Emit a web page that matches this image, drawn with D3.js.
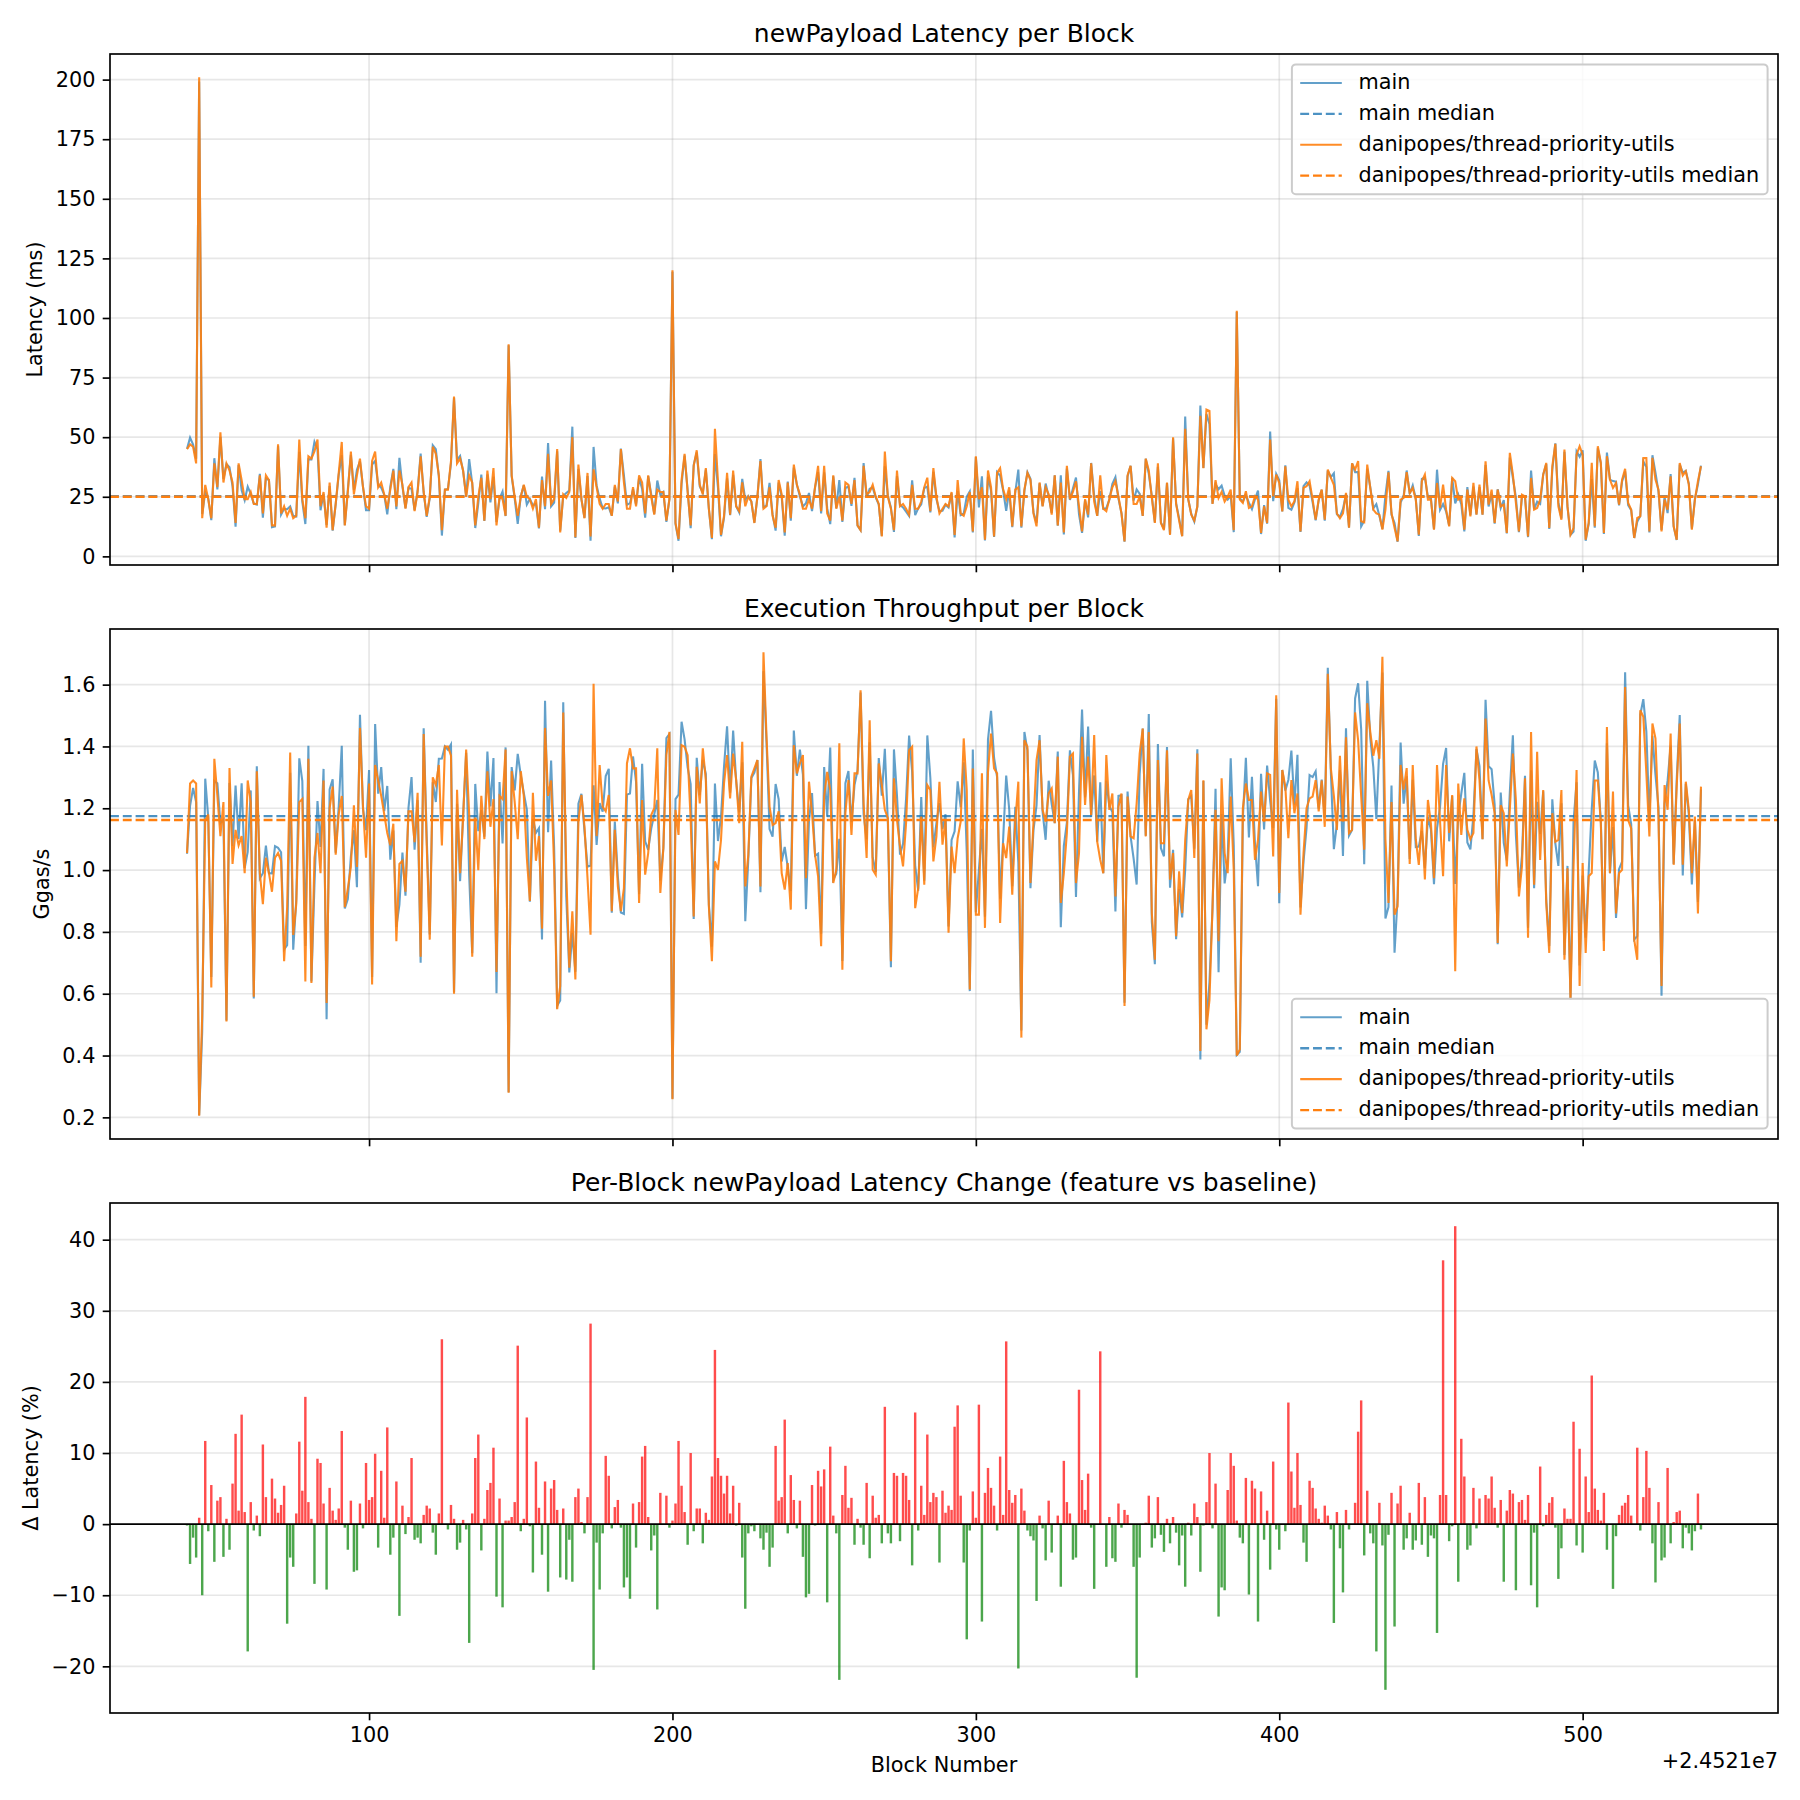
<!DOCTYPE html>
<html>
<head>
<meta charset="utf-8">
<title>newPayload benchmark</title>
<script src="https://cdn.jsdelivr.net/npm/d3@7"></script>
<style>
  body { margin: 0; background: #fff; }
  svg text { font-family: "DejaVu Sans", sans-serif; fill: #000; }
</style>
</head>
<body>
<div id="chart"></div>
<script>
// block numbers on the x axis carry an offset of +2.4521e7
const blockOffsetLabel = "+2.4521e7";
const firstBlock = 40;

// newPayload latency of the feature branch (ms), one value per block, 10 per row
const featureLatency = [
  45, 47, 46, 39, 201, 16, 30, 24, 16, 39,            // 40
  29, 52, 31, 39, 36, 31, 14, 39, 32, 24,             // 50
  24, 27, 22, 22, 34, 18, 34, 32, 13, 13,             // 60
  47, 18, 21, 17, 20, 16, 17, 49, 24, 16,             // 70
  42, 41, 44, 49, 21, 27, 12, 31, 11, 22,             // 80
  35, 48, 13, 27, 44, 26, 34, 41, 29, 21,             // 90
  20, 40, 44, 29, 31, 26, 20, 28, 36, 21,             // 100
  36, 30, 20, 29, 31, 19, 27, 42, 27, 17,             // 110
  25, 46, 43, 34, 11, 28, 28, 40, 67, 39,             // 120
  41, 36, 25, 34, 31, 13, 25, 33, 15, 36,             // 130
  24, 37, 13, 25, 24, 17, 89, 34, 25, 17,             // 140
  25, 30, 25, 24, 20, 24, 12, 32, 21, 43,             // 150
  22, 24, 45, 10, 26, 24.5, 27, 50, 8, 38.5,          // 160
  24, 16, 35, 8.4, 36.5, 29, 22, 20, 22, 22,          // 170
  17, 30, 23, 45, 31, 20, 20, 29, 21, 34,             // 180
  31, 18, 34, 25, 17.5, 28, 27, 27, 15, 24,           // 190
  120, 14, 7.3, 32, 43, 27, 13, 38, 44.5, 30,         // 200
  26, 37, 20, 7.7, 53.5, 31.5, 9, 17, 35, 17.5,       // 210
  36, 21, 19, 31, 21, 25, 23, 14, 25, 40,             // 220
  20, 21, 29, 17, 12, 32, 26, 10, 31, 16,             // 230
  38.5, 30, 26, 20, 20, 24, 20, 29, 38, 19,           // 240
  38, 18, 15, 34, 20, 25, 15, 31, 30, 22,             // 250
  32, 13, 11, 38, 26, 27, 30, 25, 22, 8.4,            // 260
  44, 25, 20, 11, 36, 21, 22, 20, 17.5, 30,           // 270
  20, 20, 23, 29, 33, 19, 37, 25, 18, 20,             // 280
  22, 21, 27, 9, 32, 18, 17, 21, 27, 10.5,            // 290
  42, 24, 29, 7, 36, 29, 8.4, 35, 37, 28,             // 300
  24, 29, 12.6, 28, 29, 12.6, 28, 35, 32, 18,         // 310
  12.6, 31, 21, 29, 26, 17.5, 34, 13, 31, 10,         // 320
  38, 24, 27, 31.5, 21, 10.5, 24, 17.5, 39, 23,       // 330
  17, 34, 20, 19, 24, 29, 31.5, 25, 18, 6.3,          // 340
  34, 38, 22, 22, 25, 17, 41, 36, 24.5, 14,           // 350
  39, 14, 11, 31, 9, 50, 22, 15, 8.4, 53.5,           // 360
  24, 17.5, 15, 21, 59, 37, 61.6, 61, 22, 32,         // 370
  24.5, 27, 23, 25, 28, 11, 103, 23.8, 22.4, 27.3,    // 380
  20.3, 21, 25.2, 23.8, 9.8, 21, 14, 49, 25.2, 34.3,  // 390
  30.8, 18.9, 37.8, 23.8, 21, 23.1, 31.5, 10.5, 28.7, 29.4, // 400
  31.5, 23.8, 15.4, 23.8, 28, 15.4, 36.4, 33, 30, 18, // 410
  16, 18, 26.6, 12, 39, 36.4, 40, 14.7, 14.3, 38.5,   // 420
  28.7, 19.6, 18, 17.5, 11.2, 19.6, 35.3, 18.2, 12, 6.3, // 430
  23.8, 24.5, 35.3, 26.6, 28.7, 23.8, 9.1, 31.5, 34.3, 23.8, // 440
  23.8, 11.2, 30.8, 20.3, 30.1, 19.6, 12.6, 32.9, 31.5, 23.8, // 450
  24.5, 11.2, 28, 16.8, 30.8, 17.5, 30.1, 17.5, 39.9, 21.7,   // 460
  28, 14, 28, 21, 21.7, 9.8, 43.4, 34.3, 22.4, 10.5,  // 470
  25.9, 25.2, 8.4, 32.9, 19.6, 20.3, 23.8, 34.3, 39.2, 11.9, // 480
  37.8, 47.2, 21, 15.4, 44.8, 21, 9.1, 11.9, 42.7, 46.2,     // 490
  42.7, 7, 14, 39.2, 12.6, 46.2, 39.2, 9.8, 42, 32.2, // 500
  28.7, 30.8, 21.7, 32.2, 36.7, 22.4, 19.6, 7.7, 16.1, 16.8, // 510
  41.3, 41.3, 10.5, 41.3, 32.2, 28, 10.5, 23.8, 19.6, 33.6,  // 520
  12.6, 7, 39.2, 33.9, 35.7, 30.1, 11.2, 23.8, 31.5, 37.8    // 530
];

// per-block newPayload latency change, feature vs baseline (%)
const latencyDelta = [
  -0.2, -5.6, -1.9, -4.7, 0.9, -10.0, 11.7, -1.0, 5.5, -5.3,   // 40
  3.3, 3.8, -4.6, 0.75, -3.6, 5.7, 12.7, 1.9, 15.4, 1.7,       // 50
  -17.9, 3.1, -0.9, 1.2, -1.7, 11.2, 3.8, 0, 6.4, 3.6,         // 60
  1.6, 2.7, 5.4, -14.0, -4.7, -6.0, 1.5, 11.6, 4.7, 17.9,      // 70
  3.1, 0.75, -8.4, 9.2, 8.6, 2.9, -9.2, 5.1, 1.9, 0.6,         // 80
  2.2, 13.1, -0.5, -3.6, 3.3, -6.7, -6.5, 2.9, -0.6, 8.6,      // 90
  3.4, 3.8, 9.9, -3.3, 7.5, 0.9, 13.6, -4.3, -1.9, 6.0,        // 100
  -12.9, 2.6, -1.4, 1.0, 9.3, -2.2, -1.9, -2.7, 1.3, 2.6,      // 110
  2.2, -1.2, -4.3, 1.5, 26.0, 0, -0.75, 2.7, 0.75, -3.6,       // 120
  -2.6, 0.6, -0.75, -16.7, 1.5, 9.3, 12.6, -3.7, 0.75, 4.8,    // 130
  5.8, 10.75, -10.2, 3.6, -11.7, 0.5, 0.5, 1.0, 3.1, 25.1,     // 140
  -1.0, 0.75, 15.0, -0.3, -6.8, 8.8, 2.3, -4.3, 6.0, -9.5,     // 150
  5.0, 6.2, 2.0, -7.5, 2.2, -7.8, -2.2, -8.1, 3.8, 5.0,        // 160
  0.3, -1.3, 3.8, 28.2, -20.5, -2.6, -9.2, -1.3, 9.6, 6.8,     // 170
  -0.6, 2.4, 3.4, -0.5, -8.9, -7.5, -10.5, 2.9, -3.3, 3.1,     // 180
  9.5, 11.0, 1.0, -3.7, -1.6, -12.0, 4.4, 0, 4.0, -0.5,        // 190
  0.5, 2.9, 11.7, 5.4, 1.7, -2.9, 10.0, -1.0, 2.2, 2.2,        // 200
  -2.7, 1.6, 0.6, 6.7, 24.5, 9.3, 6.8, 4.3, 6.8, 1.5,          // 210
  5.4, -0.2, 3.0, -4.7, -11.9, -1.3, -0.3, -1.0, 0, -2.0,      // 220
  -3.6, -1.2, -6.0, -3.3, 11.0, 3.3, 3.8, 14.7, -1.3, 6.9,     // 230
  3.4, -0.6, 3.3, -4.6, -10.3, -9.8, 5.5, -0.2, 7.5, 5.3,      // 240
  7.7, -11.0, 10.9, 1.2, -1.3, -21.9, 4.1, 8.2, 2.3, 3.7,      // 250
  -2.9, 0.75, -0.5, -2.9, 5.8, -4.8, 4.0, 0.9, 1.3, -2.7,      // 260
  16.5, -1.3, -2.7, 7.2, 6.8, -2.4, 7.2, 6.8, 3.4, -5.8,       // 270
  15.7, -0.9, 5.4, 1.3, 12.6, 3.1, 4.4, 3.8, -5.4, 4.7,        // 280
  1.6, 2.6, 2.0, 13.7, 16.7, 4.0, -5.4, -16.2, -0.9, 4.6,      // 290
  0.9, 16.8, -13.7, 4.4, 7.9, 5.1, 2.6, -0.9, 9.5, 1.3,        // 300
  25.7, 4.8, 3.0, 4.1, -20.3, 5.0, 1.9, -0.9, -1.7, -2.3,      // 310
  -10.8, 1.2, -0.6, -5.1, 3.3, -4.0, 0, 1.2, -8.8, 8.9,        // 320
  3.1, 1.5, -5.0, -4.7, 18.9, 6.2, 2.0, 7.1, -0.5, -9.1,       // 330
  0, 24.3, 0, -6.0, 1.0, -4.8, -5.3, 2.9, -0.5, 2.0,           // 340
  1.3, 0, -6.0, -21.6, -4.7, 0, 0.2, 4.0, -3.3, -2.0,          // 350
  3.8, -1.5, -3.9, 0.75, -2.7, 1.0, -1.2, -5.8, -1.6, -8.8,    // 360
  0.2, -1.6, 2.9, 1.0, -6.7, -0.2, 3.1, 10.0, -0.6, 5.7,       // 370
  -13.0, -8.9, -9.3, 4.8, 10.0, 8.2, 0.5, -1.9, -2.7, 6.5,     // 380
  -9.9, 6.1, 5.0, -13.7, 4.6, -2.2, 1.9, -6.4, 8.8, -0.75,     // 390
  -3.6, 0, -1.0, 17.1, 7.4, 2.3, 10.0, 2.7, -2.6, -5.3,        // 400
  6.1, 5.1, 2.2, 0.75, 0.2, 2.6, 1.2, -0.75, -13.9, 1.7,       // 410
  -3.4, -9.6, 2.0, -0.75, 0, 3.0, 13.0, 17.4, -4.4, 4.7,       // 420
  -1.3, -2.7, -17.9, 3.0, -3.0, -23.3, -1.5, 4.4, -14.4, 2.9,  // 430
  5.4, -3.6, -2.0, 1.6, -3.6, -2.3, 5.8, -2.9, 3.8, -4.6,      // 440
  -1.6, -2.0, -15.3, 4.1, 37.1, 4.1, -2.4, -0.3, 41.9, -8.1,   // 450
  12.0, 6.7, -3.6, -3.0, 5.1, -0.6, 3.6, 0, 4.1, 3.6,          // 460
  6.7, 2.3, -0.5, 3.4, -8.1, 1.9, 4.8, 4.3, -9.3, 3.1,         // 470
  3.4, 0.6, 4.1, -8.6, -1.2, -11.7, 8.1, -0.3, 1.3, 3.0,       // 480
  3.8, -0.5, -7.7, -3.4, 2.2, 0.75, 0.75, 14.4, -3.0, 10.6,    // 490
  -4.0, 6.7, 1.7, 20.9, 5.0, 2.0, 0.5, 4.4, -3.6, 0,           // 500
  -9.1, -1.7, 1.3, 2.6, 3.0, 4.1, 1.2, 0, 10.75, -0.9,         // 510
  3.8, 10.3, 5.1, -2.7, -8.2, 3.1, -5.1, -4.7, 7.9, -2.7,      // 520
  0.3, 1.7, 1.9, -3.4, -0.5, -1.3, -3.7, -1.0, 4.3, -0.75      // 530
];

// execution throughput of the feature branch (Ggas/s)
const featureThroughput = [
  1.055, 1.28, 1.29, 1.28, 0.205, 0.53, 1.16, 1.18, 0.62, 1.36,        // 40
  1.24, 1.11, 1.22, 0.51, 1.33, 1.02, 1.13, 1.08, 1.11, 0.99,          // 50
  1.29, 1.22, 0.59, 1.32, 0.99, 0.89, 1.04, 0.99, 0.93, 1.04,          // 60
  1.055, 1.03, 0.705, 0.88, 1.38, 0.79, 0.89, 1.22, 1.23, 0.64,        // 70
  1.36, 0.635, 1.04, 1.12, 0.99, 1.29, 0.57, 1.20, 1.27, 1.05,         // 80
  1.18, 1.24, 0.88, 0.94, 1.01, 1.21, 1.01, 1.46, 1.205, 1.04,         // 90
  1.28, 0.63, 1.34, 1.29, 1.24, 1.18, 1.12, 1.08, 1.15, 0.77,          // 100
  1.02, 1.03, 0.93, 1.19, 1.19, 1.09, 1.25, 0.72, 1.44, 1.08,          // 110
  0.775, 1.30, 1.275, 1.34, 1.08, 1.40, 1.40, 1.37, 0.60, 1.26,        // 120
  0.99, 1.17, 1.39, 1.18, 0.72, 1.17, 1.00, 1.24, 1.10, 1.32,          // 130
  1.14, 1.23, 0.67, 1.24, 1.23, 1.39, 0.28, 1.32, 1.22, 1.10,          // 140
  1.32, 1.24, 1.04, 0.90, 1.25, 1.03, 1.11, 0.81, 1.46, 1.24,          // 150
  1.29, 1.01, 0.55, 0.625, 1.51, 0.99, 0.684, 0.867, 0.646, 1.157,     // 160
  1.243, 1.141, 0.974, 0.791, 1.603, 1.11, 1.34, 1.205, 1.19, 1.243,   // 170
  0.867, 1.13, 0.947, 0.867, 0.942, 1.345, 1.394, 1.329, 1.329, 0.894, // 180
  1.227, 0.985, 1.055, 1.178, 1.20, 1.394, 0.926, 1.071, 1.372, 1.447, // 190
  0.259, 1.195, 1.114, 1.404, 1.399, 1.372, 1.162, 0.85, 1.334, 1.216, // 200
  1.394, 1.291, 0.883, 0.705, 1.028, 1.001, 1.098, 1.281, 1.372, 1.232,// 210
  1.377, 1.291, 1.152, 1.415, 0.947, 1.049, 1.302, 1.329, 1.356, 0.947,// 220
  1.705, 1.431, 1.205, 1.146, 1.152, 1.19, 0.99, 0.937, 1.023, 0.872,  // 230
  1.404, 1.313, 1.345, 1.372, 0.974, 1.286, 1.184, 1.049, 0.98, 0.754, // 240
  1.238, 1.318, 1.259, 0.958, 1.001, 1.41, 0.678, 1.184, 1.291, 1.114, // 250
  1.313, 1.313, 1.582, 1.216, 1.039, 1.485, 1.001, 0.985, 1.345, 1.275,// 260
  1.195, 1.168, 0.705, 1.297, 1.162, 1.076, 1.012, 1.152, 1.388, 1.399,// 270
  0.877, 0.942, 1.173, 0.953, 1.275, 1.259, 1.028, 1.109, 1.286, 1.082,// 280
  1.162, 0.797, 1.076, 0.99, 1.103, 1.157, 1.426, 1.259, 0.614, 1.329, // 290
  0.856, 0.856, 1.313, 0.813, 1.318, 1.442, 1.329, 1.313, 0.829, 1.087,// 300
  1.039, 1.141, 0.92, 1.157, 1.286, 0.458, 1.42, 1.399, 0.958, 1.157,  // 310
  1.356, 1.42, 1.195, 1.157, 1.248, 1.264, 1.152, 1.367, 0.894, 0.99,  // 320
  1.119, 1.367, 1.377, 0.958, 1.055, 1.431, 1.211, 1.367, 1.178, 1.437,// 330
  1.092, 1.033, 0.99, 1.372, 1.195, 1.248, 0.915, 1.205, 1.248, 0.56,  // 340
  1.238, 1.109, 1.103, 1.216, 1.377, 1.458, 1.109, 1.447, 0.861, 0.71, // 350
  1.356, 1.087, 1.087, 1.388, 0.969, 1.055, 0.786, 0.996, 0.861, 1.098,// 360
  1.227, 1.259, 1.039, 1.377, 0.415, 1.291, 0.485, 0.58, 0.88, 1.195,  // 370
  0.77, 1.297, 1.055, 0.99, 1.238, 1.0, 0.40, 0.42, 1.20, 1.28,        // 380
  1.227, 1.227, 1.033, 1.098, 1.254, 1.157, 1.313, 1.308, 1.044, 1.566,// 390
  0.926, 1.324, 1.270, 1.103, 1.291, 1.184, 1.248, 0.856, 1.055, 1.20, // 400
  1.232, 1.238, 1.291, 1.19, 1.29, 1.14, 1.635, 1.33, 1.24, 1.13,      // 410
  1.37, 1.157, 1.43, 1.12, 1.13, 1.51, 1.42, 1.24, 1.066, 1.54,        // 420
  1.447, 1.37, 1.42, 1.36, 1.69, 1.10, 0.894, 1.22, 0.856, 0.883,      // 430
  1.34, 1.26, 1.33, 1.02, 1.34, 1.10, 1.017, 1.16, 0.97, 1.227,        // 440
  1.15, 0.974, 1.34, 1.157, 0.98, 1.34, 1.12, 1.243, 0.673, 1.28,      // 450
  1.114, 1.232, 1.13, 1.10, 1.12, 1.40, 1.29, 1.10, 1.49, 1.29,        // 460
  1.243, 1.184, 0.764, 1.21, 1.184, 1.012, 1.195, 1.377, 1.227, 0.915, // 470
  1.012, 1.297, 0.781, 1.447, 0.953, 1.383, 1.033, 1.259, 0.894, 0.732,// 480
  1.184, 1.092, 1.098, 1.259, 0.71, 1.006, 0.58, 1.012, 1.324, 0.625,  // 490
  1.023, 0.732, 0.98, 0.99, 1.29, 1.29, 1.152, 0.738, 1.463, 0.99,     // 500
  1.254, 0.86, 0.99, 1.001, 1.592, 1.162, 1.135, 0.775, 0.71, 1.517,   // 510
  1.496, 1.313, 1.109, 1.474, 1.426, 1.168, 0.625, 1.275, 1.195, 1.442,// 520
  1.017, 1.27, 1.474, 1.017, 1.286, 1.195, 0.99, 1.173, 0.86, 1.27     // 530
];

const mainName = "main";
const featureName = "danipopes/thread-priority-utils";
const xTicks = [100, 200, 300, 400, 500];
const latencyTicks = [0, 25, 50, 75, 100, 125, 150, 175, 200];
const throughputTicks = [0.2, 0.4, 0.6, 0.8, 1.0, 1.2, 1.4, 1.6];
const deltaTicks = [-20, -10, 0, 10, 20, 30, 40];

const blocks = featureLatency.map((_, i) => firstBlock + i);
// baseline values follow from the feature values and the plotted per-block change
const mainLatency = featureLatency.map((v, i) => v / (1 + latencyDelta[i] / 100));
const mainThroughput = featureThroughput.map((v, i) => v * (1 + latencyDelta[i] / 100));

// layout (px)
const fs = 20.8;           // 10pt at 150 dpi
const left = 110, right = 1778;
const tickLen = 7.3, lw = 1.67;

const svg = d3.select("#chart").append("svg")
    .attr("width", 1800).attr("height", 1800)
    .style("display", "block");
svg.append("rect").attr("width", 1800).attr("height", 1800).attr("fill", "#fff");

const x = d3.scaleLinear().domain([14.61, 564.39]).range([left, right]);

function padded(lo, hi) {
    const m = (hi - lo) * 0.05;
    return [lo - m, hi + m];
}

const mainStyle = { color: "#1f77b4", opacity: 0.7, width: 2.08, dash: null };
const mainMedianStyle = { color: "#1f77b4", opacity: 0.8, width: 2.3, dash: "8.9,3.9" };
const featureStyle = { color: "#ff7f0e", opacity: 0.9, width: 2.08, dash: null };
const featureMedianStyle = { color: "#ff7f0e", opacity: 1, width: 2.3, dash: "8.9,3.9" };

function styleLine(sel, s) {
    sel.attr("fill", "none")
        .attr("stroke", s.color)
        .attr("stroke-opacity", s.opacity)
        .attr("stroke-width", s.width);
    if (s.dash) sel.attr("stroke-dasharray", s.dash);
    return sel;
}

function drawPanel(top, bottom, domain, yTicks, fmt, title, ylabel, vgrid, xLabels) {
    const g = svg.append("g");
    const y = d3.scaleLinear().domain(domain).range([bottom, top]);

    // grid
    const grid = g.append("g")
        .attr("stroke", "#b0b0b0").attr("stroke-opacity", 0.3).attr("stroke-width", lw);
    yTicks.forEach(t => grid.append("line")
        .attr("x1", left).attr("x2", right).attr("y1", y(t)).attr("y2", y(t)));
    if (vgrid) xTicks.forEach(t => grid.append("line")
        .attr("x1", x(t)).attr("x2", x(t)).attr("y1", top).attr("y2", bottom));

    const plot = g.append("g");

    // axes
    const yAxis = g.append("g")
        .attr("transform", `translate(${left},0)`)
        .call(d3.axisLeft(y).tickValues(yTicks).tickFormat(fmt).tickSize(tickLen).tickPadding(tickLen));
    const xAxis = g.append("g")
        .attr("transform", `translate(0,${bottom})`)
        .call(d3.axisBottom(x).tickValues(xTicks).tickSize(tickLen).tickPadding(tickLen)
            .tickFormat(xLabels ? d3.format("d") : ""));
    [yAxis, xAxis].forEach(a => {
        a.select(".domain").remove();
        a.attr("font-size", fs).attr("font-family", "DejaVu Sans");
        a.selectAll("line").attr("stroke", "#000").attr("stroke-width", lw);
        a.selectAll("text").attr("fill", "#000");
    });

    // spines
    g.append("rect")
        .attr("x", left).attr("y", top)
        .attr("width", right - left).attr("height", bottom - top)
        .attr("fill", "none").attr("stroke", "#000").attr("stroke-width", lw);

    g.append("text")
        .attr("x", (left + right) / 2).attr("y", top - 12.5)
        .attr("text-anchor", "middle").attr("font-size", 24.96)
        .text(title);

    const minX = d3.min(yAxis.selectAll("text").nodes(), n => n.getBBox().x) + left;
    g.append("text")
        .attr("transform", `translate(${minX - 8.3 - 5},${(top + bottom) / 2}) rotate(-90)`)
        .attr("text-anchor", "middle").attr("font-size", fs)
        .text(ylabel);

    return { g, plot, y };
}

function drawLegend(g, items, upper, top, bottom) {
    const pad = 0.4 * fs, handle = 2 * fs, gap = 0.8 * fs, rowH = 20.5, spacing = 0.5 * fs;
    const lg = g.append("g");
    const probe = lg.append("text").attr("font-size", fs)
        .text(items[items.length - 1].label);
    const textW = d3.max(items, it => { probe.text(it.label); return probe.node().getComputedTextLength(); });
    probe.remove();
    const w = 2 * pad + handle + gap + textW;
    const h = 2 * pad + items.length * rowH + (items.length - 1) * spacing;
    const x0 = right - 0.5 * fs - w;
    const y0 = upper ? top + 0.5 * fs : bottom - 0.5 * fs - h;
    lg.append("rect")
        .attr("x", x0).attr("y", y0).attr("width", w).attr("height", h)
        .attr("rx", 4)
        .attr("fill", "#fff").attr("fill-opacity", 0.8)
        .attr("stroke", "#cccccc").attr("stroke-width", 2);
    items.forEach((it, i) => {
        const cy = y0 + pad + rowH / 2 + i * (rowH + spacing);
        styleLine(lg.append("line")
            .attr("x1", x0 + pad).attr("x2", x0 + pad + handle)
            .attr("y1", cy).attr("y2", cy), it.style);
        lg.append("text")
            .attr("x", x0 + pad + handle + gap).attr("y", cy + 0.3 * fs)
            .attr("font-size", fs)
            .text(it.label);
    });
}

function lineChart(top, bottom, mainVals, featVals, yTicks, fmt, title, ylabel, legendUpper) {
    const all = mainVals.concat(featVals);
    const p = drawPanel(top, bottom, padded(d3.min(all), d3.max(all)), yTicks, fmt, title, ylabel, true, false);
    const line = d3.line().x((d, i) => x(blocks[i])).y(d => p.y(d));
    const mainMed = d3.median(mainVals), featMed = d3.median(featVals);
    styleLine(p.plot.append("path").attr("d", line(mainVals)), mainStyle);
    styleLine(p.plot.append("line").attr("x1", left).attr("x2", right)
        .attr("y1", p.y(mainMed)).attr("y2", p.y(mainMed)), mainMedianStyle);
    styleLine(p.plot.append("path").attr("d", line(featVals)), featureStyle);
    styleLine(p.plot.append("line").attr("x1", left).attr("x2", right)
        .attr("y1", p.y(featMed)).attr("y2", p.y(featMed)), featureMedianStyle);
    drawLegend(p.g, [
        { label: mainName, style: mainStyle },
        { label: mainName + " median", style: mainMedianStyle },
        { label: featureName, style: featureStyle },
        { label: featureName + " median", style: featureMedianStyle }
    ], legendUpper, top, bottom);
}

lineChart(54, 565, mainLatency, featureLatency, latencyTicks, d3.format("d"),
    "newPayload Latency per Block", "Latency (ms)", true);
lineChart(629, 1139, mainThroughput, featureThroughput, throughputTicks, d3.format(".1f"),
    "Execution Throughput per Block", "Ggas/s", false);

// delta bars
const dTop = 1203, dBottom = 1713;
const dp = drawPanel(dTop, dBottom, padded(Math.min(0, d3.min(latencyDelta)), Math.max(0, d3.max(latencyDelta))),
    deltaTicks, d3.format("d"), "Per-Block newPayload Latency Change (feature vs baseline)",
    "\u0394 Latency (%)", false, true);
dp.plot.selectAll("rect")
    .data(latencyDelta)
    .enter()
    .append("rect")
    .attr("x", (d, i) => x(blocks[i] - 0.4))
    .attr("width", (d, i) => x(blocks[i] + 0.4) - x(blocks[i] - 0.4))
    .attr("y", d => dp.y(Math.max(0, d)))
    .attr("height", d => Math.abs(dp.y(0) - dp.y(d)))
    .attr("fill", d => d > 0 ? "#ff0000" : "#008000")
    .attr("fill-opacity", 0.7);
dp.plot.append("line")
    .attr("x1", left).attr("x2", right)
    .attr("y1", dp.y(0)).attr("y2", dp.y(0))
    .attr("stroke", "#000").attr("stroke-width", lw);

svg.append("text")
    .attr("x", (left + right) / 2).attr("y", 1772)
    .attr("text-anchor", "middle").attr("font-size", fs)
    .text("Block Number");
svg.append("text")
    .attr("x", right).attr("y", 1768)
    .attr("text-anchor", "end").attr("font-size", fs)
    .text(blockOffsetLabel);
</script>
</body>
</html>
